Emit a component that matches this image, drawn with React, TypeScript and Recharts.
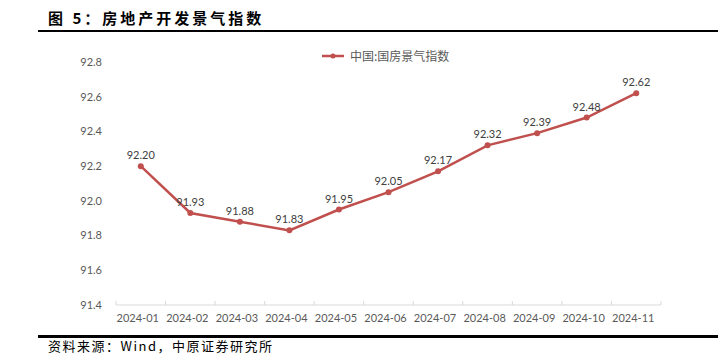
import React from "react";
import { LineChart, Line, XAxis, YAxis, LabelList } from "recharts";

const months = [
  "2024-01", "2024-02", "2024-03", "2024-04", "2024-05", "2024-06",
  "2024-07", "2024-08", "2024-09", "2024-10", "2024-11",
];
const index = [92.2, 91.93, 91.88, 91.83, 91.95, 92.05, 92.17, 92.32, 92.39, 92.48, 92.62];
const yTicks = [91.4, 91.6, 91.8, 92.0, 92.2, 92.4, 92.6, 92.8];

const seriesName = "中国:国房景气指数";
const red = "#C0504D";
const gray = "#595959";
const numFont = "Lato, 'Liberation Sans', sans-serif";
const cjkFont = "'Noto Sans CJK SC', sans-serif";

const data = months.map((m, i) => ({ month: m, value: index[i] }));

const W = 718;
const H = 355;
const plotLeft = 116;
const plotRight = 661;
const band = (plotRight - plotLeft) / months.length;

function MonthTick(props: any) {
  const { x, y, payload, index: i } = props;
  const axisY = y - 8;
  return (
    <g>
      <line x1={x - band / 2} x2={x - band / 2} y1={axisY} y2={axisY - 4} stroke="#D9D9D9" />
      {i === months.length - 1 && (
        <line x1={x + band / 2} x2={x + band / 2} y1={axisY} y2={axisY - 4} stroke="#D9D9D9" />
      )}
      <text x={x - 3} y={axisY + 17} textAnchor="middle" fontSize={11} fill={gray} fontFamily={numFont}>
        {payload.value}
      </text>
    </g>
  );
}

export default function App() {
  return (
    <div style={{ position: "absolute", left: 0, top: 0, width: W, height: H, background: "#fff", overflow: "hidden" }}>
      <div
        style={{
          position: "absolute", left: 48, top: 7, fontFamily: cjkFont, fontWeight: 700,
          fontSize: 15, lineHeight: "22px", color: "#000", letterSpacing: 3,
        }}
      >
        图 5：房地产开发景气指数
      </div>
      <div style={{ position: "absolute", left: 38, top: 30, width: W - 38, height: 2, background: "#000" }} />
      <LineChart
        width={W}
        height={H}
        data={data}
        margin={{ top: 62, right: W - plotRight, bottom: 20, left: 0 }}
      >
        <XAxis
          dataKey="month"
          scale="band"
          height={30}
          axisLine={{ stroke: "#D9D9D9" }}
          tickLine={false}
          tick={<MonthTick />}
          interval={0}
        />
        <YAxis
          width={plotLeft}
          domain={[91.4, 92.8]}
          ticks={yTicks}
          tickFormatter={(v: number) => v.toFixed(1)}
          axisLine={false}
          tickLine={false}
          tickMargin={8}
          tick={{ fontSize: 11, fill: gray, fontFamily: numFont }}
        />
        <Line
          dataKey="value"
          name={seriesName}
          stroke={red}
          strokeWidth={2.5}
          dot={{ r: 3, fill: red, stroke: red, strokeWidth: 0 }}
          isAnimationActive={false}
        >
          <LabelList
            dataKey="value"
            position="top"
            offset={7}
            formatter={(v: number) => v.toFixed(2)}
            style={{ fontSize: 11, fill: "#404040", fontFamily: numFont }}
          />
        </Line>
      </LineChart>
      <div
        style={{
          position: "absolute", top: 48, left: 322, display: "flex", alignItems: "center",
          fontFamily: cjkFont, fontSize: 12, color: gray, lineHeight: "16px",
        }}
      >
        <svg width={22} height={8} style={{ marginRight: 6 }}>
          <line x1={0} x2={22} y1={4} y2={4} stroke={red} strokeWidth={2.5} />
          <circle cx={11} cy={4} r={2.5} fill={red} />
        </svg>
        <span>{seriesName}</span>
      </div>
      <div style={{ position: "absolute", left: 38, top: 335, width: W - 38, height: 2.5, background: "#000" }} />
      <div
        style={{
          position: "absolute", left: 48, top: 339, fontFamily: cjkFont, fontSize: 13,
          lineHeight: "14px", color: "#000", letterSpacing: 1.5,
        }}
      >
        资料来源：Wind，中原证券研究所
      </div>
    </div>
  );
}
